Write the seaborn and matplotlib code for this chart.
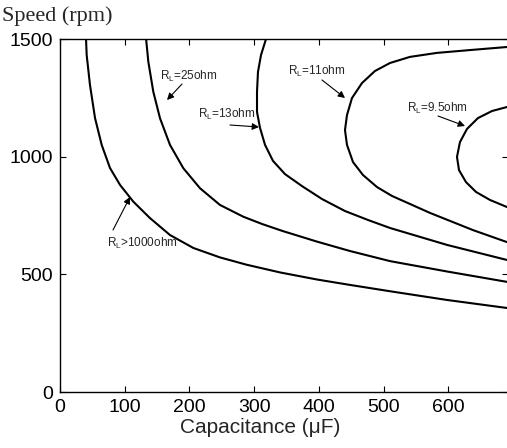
import matplotlib
matplotlib.use("Agg")
import matplotlib.pyplot as plt
import seaborn as sns
import pandas as pd

# ---- data ----
c_1000_x = [40.2, 41.2, 46.3, 54.1, 64.4, 77.2, 92.7, 113.2, 139, 169.9, 206, 247, 288, 340, 397, 448, 510, 598, 690.4]
c_1000_y = [1500, 1432, 1305, 1164, 1050, 952, 880, 809, 739, 667, 612, 572, 541, 508, 478, 455, 428, 391, 357]

c_25_x = [133, 136.4, 144.1, 154.5, 169.9, 190.5, 216.2, 247, 283, 312, 344, 397, 448, 510, 598, 690.4]
c_25_y = [1500, 1404, 1276, 1163, 1050, 951, 866, 795, 745, 714, 684, 639, 599, 556, 512, 468]

c_13_x = [318.2, 310.5, 305.8, 304.3, 304.3, 309, 316.7, 329, 347.5, 373.8, 404.7, 440.2, 475.7, 509.7, 597.8, 690.5]
c_13_y = [1500, 1432, 1360, 1275, 1190, 1122, 1050, 982, 926, 875, 820, 769, 731, 697, 625, 561]

c_11_x = [690.4, 633.3, 582.3, 540.6, 509.7, 486.5, 466.5, 451, 443.3, 440.2, 443.3, 452.6, 468, 489.6, 512.8, 540.6, 571.5, 637.9, 690.4]
c_11_y = [1466, 1453, 1441, 1424, 1398, 1364, 1313, 1249, 1177, 1113, 1050, 977, 922, 871, 833, 799, 761, 688, 637]

c_95_x = [690.4, 667.3, 645.6, 628.7, 617.8, 613.2, 616.3, 627.1, 642.6, 664.2, 690.4]
c_95_y = [1211, 1194, 1164, 1118, 1062, 999, 943, 892, 850, 816, 786]

curves = {
    "R_L>1000ohm": (c_1000_x, c_1000_y),
    "R_L=25ohm": (c_25_x, c_25_y),
    "R_L=13ohm": (c_13_x, c_13_y),
    "R_L=11ohm": (c_11_x, c_11_y),
    "R_L=9.5ohm": (c_95_x, c_95_y),
}

x_ticks = [0, 100, 200, 300, 400, 500, 600]
y_ticks = [0, 500, 1000, 1500]

# ---- style ----
sns.set_style("ticks")
plt.rcParams["font.family"] = ["Liberation Sans", "DejaVu Sans"]
plt.rcParams["axes.linewidth"] = 1.0

fig = plt.figure(figsize=(5.07, 4.48), dpi=100)
ax = fig.add_axes([60 / 507, 1 - 392 / 448, 448 / 507, (392 - 39) / 448])

for name, (xs, ys) in curves.items():
    df = pd.DataFrame({"C": xs, "S": ys})
    sns.lineplot(data=df, x="C", y="S", sort=False, estimator=None,
                 color="black", linewidth=1.5, ax=ax)

ax.set_xlim(0, 692)
ax.set_ylim(0, 1500)
ax.set_xticks(x_ticks)
ax.set_yticks(y_ticks)
ax.tick_params(direction="in", length=4, width=0.8, top=True, right=True,
               labelsize=14, colors="black")
ax.tick_params(axis="x", pad=5)
ax.tick_params(axis="y", pad=5)
for s in ax.spines.values():
    s.set_color("black")

ax.set_xlabel("Capacitance (\u03bcF)", fontsize=15)
ax.xaxis.set_label_coords((260 - 60) / 447, -0.075)
ax.set_ylabel("")
fig.text(2 / 507, 1 - 16 / 448, "Speed (rpm)", fontsize=16,
         family=["Liberation Serif", "DejaVu Serif"], va="center", ha="left")

arrowprops = dict(arrowstyle="-|>", color="black", lw=0.8,
                  mutation_scale=10, shrinkA=0, shrinkB=0)
fs = 8.5

def px(xp, yp):
    return ((xp - 60) / (448 / 692), (392 - yp) / (353 / 1500))

labels = [
    (r"R$_\mathregular{L}$=25ohm", px(160, 76), px(182, 84), px(167, 100)),
    (r"R$_\mathregular{L}$=13ohm", px(198, 114), px(230, 125), px(259, 127)),
    (r"R$_\mathregular{L}$=11ohm", px(288, 71), px(322, 80), px(345, 98)),
    (r"R$_\mathregular{L}$=9.5ohm", px(407, 108), px(438, 116), px(465, 126)),
    (r"R$_\mathregular{L}$>1000ohm", px(107, 243), px(113, 230), px(130, 197)),
]
for text, tpos, tail, head in labels:
    ax.text(tpos[0], tpos[1], text, fontsize=fs, ha="left", va="center")
    ax.annotate("", xy=head, xytext=tail, arrowprops=arrowprops)

fig.savefig("out.png", dpi=100)
